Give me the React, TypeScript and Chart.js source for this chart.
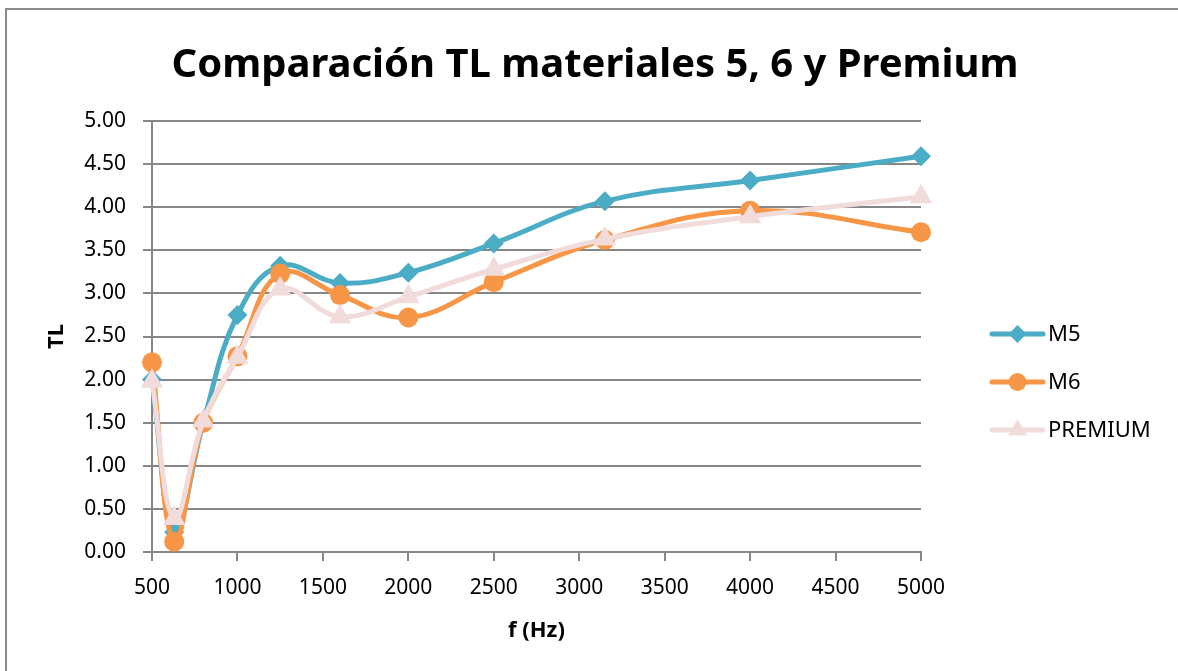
import React, { useEffect, useRef } from "react";
import { Chart, registerables } from "chart.js";

Chart.register(...registerables);

const TITLE = "Comparación TL materiales 5, 6 y Premium";
const X_TITLE = "f (Hz)";
const Y_TITLE = "TL";
const FREQS = [500, 630, 800, 1000, 1250, 1600, 2000, 2500, 3150, 4000, 5000];
const M5 = [2.0, 0.23, 1.5, 2.75, 3.32, 3.12, 3.24, 3.58, 4.07, 4.31, 4.59];
const M6 = [2.2, 0.12, 1.5, 2.27, 3.23, 2.98, 2.72, 3.13, 3.62, 3.96, 3.71];
const PREMIUM = [1.98, 0.39, 1.52, 2.26, 3.05, 2.73, 2.96, 3.28, 3.63, 3.89, 4.12];
const SERIES_NAMES = ["M5", "M6", "PREMIUM"];
const COLORS = ["#4BACC6", "#F79646", "#F2DCDB"];
const POINT_STYLES = ["rectRot", "circle", "triangle"];
const POINT_RADII = [10, 10, 13];
const FONT = "'Noto Sans', sans-serif";

function drawMarker(ctx: CanvasRenderingContext2D, style: string, r: number, x: number, y: number) {
  ctx.beginPath();
  if (style === "circle") {
    ctx.arc(x, y, r, 0, Math.PI * 2);
  } else if (style === "rectRot") {
    ctx.moveTo(x, y - r);
    ctx.lineTo(x + r, y);
    ctx.lineTo(x, y + r);
    ctx.lineTo(x - r, y);
    ctx.closePath();
  } else {
    ctx.moveTo(x, y - r);
    ctx.lineTo(x + r * 0.866, y + r * 0.5);
    ctx.lineTo(x - r * 0.866, y + r * 0.5);
    ctx.closePath();
  }
  ctx.fill();
}

const decorPlugin = {
  id: "excelDecor",
  afterDraw(chart: any) {
    const ctx = chart.ctx;
    // title
    ctx.save();
    ctx.fillStyle = "#000";
    ctx.font = `bold 40px ${FONT}`;
    ctx.textAlign = "center";
    ctx.textBaseline = "alphabetic";
    ctx.fillText(TITLE, 595, 77);
    ctx.restore();
    // legend
    const x0 = 992;
    const x1 = 1043;
    const ys = [334, 382, 430];
    chart.data.datasets.forEach((ds: any, i: number) => {
      const y = ys[i];
      ctx.save();
      ctx.strokeStyle = ds.borderColor;
      ctx.lineWidth = 5;
      ctx.lineCap = "round";
      ctx.beginPath();
      ctx.moveTo(x0, y);
      ctx.lineTo(x1, y);
      ctx.stroke();
      ctx.fillStyle = ds.borderColor;
      drawMarker(ctx, ds.pointStyle, i === 2 ? 11 : 9, (x0 + x1) / 2, y);
      ctx.fillStyle = "#000";
      ctx.font = `22px ${FONT}`;
      ctx.textBaseline = "middle";
      ctx.textAlign = "left";
      ctx.fillText(ds.label, 1048, y + 1);
      ctx.restore();
    });
  },
};

export default function App() {
  const ref = useRef<HTMLCanvasElement>(null);
  useEffect(() => {
    if (!ref.current) return;
    const all = [M5, M6, PREMIUM];
    const chart = new Chart(ref.current, {
      type: "line",
      data: {
        datasets: all.map((vals, i) => ({
          label: SERIES_NAMES[i],
          data: FREQS.map((f, j) => ({ x: f, y: vals[j] })),
          borderColor: COLORS[i],
          backgroundColor: COLORS[i],
          pointBackgroundColor: COLORS[i],
          pointBorderColor: COLORS[i],
          pointStyle: POINT_STYLES[i] as any,
          pointRadius: POINT_RADII[i],
          pointBorderWidth: 0,
          borderWidth: 5,
          tension: 0.4,
          fill: false,
          order: 3 - i,
          clip: false as any,
        })),
      },
      plugins: [decorPlugin],
      options: {
        animation: false,
        responsive: false,
        layout: { padding: { left: 0, right: 257, top: 121, bottom: 0 } },
        plugins: {
          legend: { display: false },
          tooltip: { enabled: false },
          title: { display: false },
        },
        scales: {
          x: {
            type: "linear",
            min: 500,
            max: 5000,
            afterFit(scale: any) {
              scale.height = 119;
            },
            ticks: {
              stepSize: 500,
              color: "#000",
              font: { family: FONT, size: 21 },
              padding: 14,
              maxRotation: 0,
              callback: (v: any) => String(v),
            },
            grid: {
              display: true,
              drawOnChartArea: false,
              drawTicks: true,
              tickLength: 9,
              color: "#868686",
              lineWidth: 2,
            },
            border: { display: true, color: "#868686", width: 2 },
            title: {
              display: true,
              text: X_TITLE,
              color: "#000",
              font: { family: FONT, size: 22, weight: "bold" },
              padding: { bottom: 27 },
            },
          },
          y: {
            min: 0,
            max: 5,
            afterFit(scale: any) {
              scale.width = 152;
            },
            ticks: {
              stepSize: 0.5,
              color: "#000",
              font: { family: FONT, size: 21 },
              padding: 17,
              callback: (v: any) => Number(v).toFixed(2),
            },
            grid: {
              color: "#868686",
              lineWidth: 2,
              tickLength: 9,
            },
            border: { display: true, color: "#868686", width: 2 },
            title: {
              display: true,
              text: Y_TITLE,
              color: "#000",
              font: { family: FONT, size: 22, weight: "bold" },
              padding: { top: 44 },
            },
          },
        },
      },
    });
    return () => chart.destroy();
  }, []);
  return (
    <div style={{ position: "fixed", left: 0, top: 0, width: 1178, height: 671, background: "#fff" }}>
      <div
        style={{
          position: "absolute",
          left: 5,
          top: 8,
          width: 1200,
          height: 700,
          borderLeft: "2px solid #8c8c8c",
          borderTop: "2px solid #8c8c8c",
        }}
      />
      <canvas ref={ref} width={1178} height={671} style={{ position: "absolute", left: 0, top: 0 }} />
    </div>
  );
}
